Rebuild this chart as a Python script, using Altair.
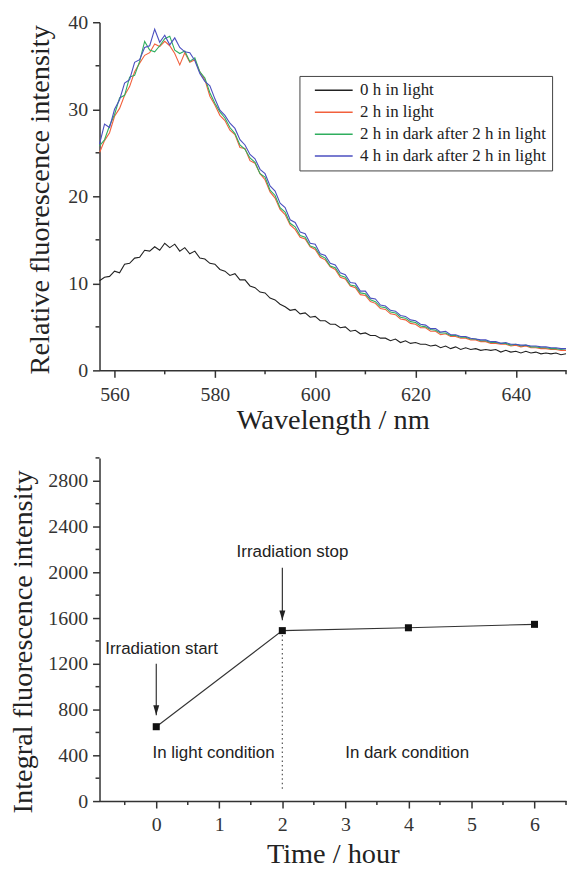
import altair as alt
import pandas as pd

# ---------------- data: top panel (spectra) ----------------
wavelength = list(range(557, 651))

black = [10.3, 10.7, 10.8, 11.4, 11.2, 12.2, 12.3, 12.9, 13.0, 13.8,
         13.7, 14.2, 13.8, 14.6, 14.1, 14.5, 13.7, 14.1, 13.4, 13.7,
         12.9, 12.8, 12.3, 12.2, 11.6, 11.4, 10.9, 11.1, 10.4, 10.4,
         9.7, 9.5, 9.0, 8.9, 8.3, 8.1, 7.6, 7.3, 6.9, 7.0,
         6.5, 6.6, 6.1, 6.2, 5.7, 5.7, 5.3, 5.3, 4.9, 5.0,
         4.5, 4.6, 4.2, 4.3, 4.0, 4.0, 3.7, 3.7, 3.4, 3.6,
         3.2, 3.4, 3.1, 3.2, 3.0, 3.0, 2.8, 2.9, 2.6, 2.8,
         2.5, 2.7, 2.4, 2.6, 2.4, 2.5, 2.3, 2.4, 2.3, 2.4,
         2.1, 2.3, 2.1, 2.2, 2.0, 2.2, 2.0, 2.1, 1.9, 2.0,
         1.9, 2.0, 1.8, 1.9]

red = [25.0, 26.4, 27.3, 29.2, 30.1, 31.6, 32.6, 34.3, 35.3, 36.2,
       36.5, 37.5, 37.2, 37.8, 37.3, 36.4, 35.1, 36.5, 35.4, 35.7,
       34.3, 33.4, 31.5, 30.5, 29.3, 28.7, 27.6, 27.1, 25.6, 25.5,
       24.1, 23.8, 22.6, 21.9, 20.5, 19.8, 18.5, 17.9, 16.7, 16.2,
       15.3, 15.1, 14.2, 13.9, 13.0, 12.7, 11.9, 11.6, 10.7, 10.5,
       9.7, 9.5, 8.7, 8.6, 7.9, 7.7, 7.1, 7.0, 6.5, 6.4,
       5.9, 5.8, 5.4, 5.3, 4.9, 4.9, 4.5, 4.5, 4.1, 4.2,
       3.9, 3.9, 3.7, 3.7, 3.5, 3.5, 3.3, 3.3, 3.1, 3.1,
       3.0, 3.0, 2.8, 2.9, 2.7, 2.8, 2.6, 2.6, 2.5, 2.5,
       2.4, 2.4, 2.3, 2.3]

green = [25.8, 26.5, 28.1, 29.4, 31.3, 31.6, 33.7, 33.9, 35.5, 37.8,
         36.8, 36.6, 37.3, 38.1, 38.4, 36.8, 36.4, 36.7, 35.5, 35.9,
         34.3, 33.6, 31.9, 30.7, 29.7, 29.0, 27.9, 27.2, 25.9, 25.4,
         24.4, 23.9, 22.6, 22.2, 20.7, 20.1, 18.7, 18.2, 16.9, 16.5,
         15.5, 15.3, 14.3, 14.1, 13.2, 12.9, 12.0, 11.8, 10.9, 10.7,
         9.8, 9.7, 8.9, 8.8, 8.1, 7.9, 7.3, 7.2, 6.7, 6.6,
         6.1, 6.0, 5.6, 5.5, 5.1, 5.0, 4.7, 4.6, 4.3, 4.3,
         4.0, 4.0, 3.8, 3.8, 3.6, 3.6, 3.4, 3.4, 3.2, 3.2,
         3.1, 3.1, 2.9, 3.0, 2.8, 2.9, 2.7, 2.7, 2.6, 2.6,
         2.5, 2.5, 2.4, 2.5]

blue = [26.0, 28.3, 27.9, 30.0, 31.1, 33.0, 33.4, 35.4, 35.7, 37.1,
        37.3, 39.2, 37.7, 38.5, 37.4, 38.2, 37.1, 36.6, 36.5, 35.6,
        34.1, 33.2, 32.7, 31.2, 29.9, 29.3, 28.4, 27.8, 26.5, 25.9,
        24.8, 24.3, 23.1, 22.6, 21.2, 20.6, 19.2, 18.7, 17.3, 17.0,
        15.9, 15.7, 14.6, 14.5, 13.4, 13.2, 12.3, 12.1, 11.2, 11.0,
        10.1, 10.0, 9.1, 9.1, 8.3, 8.2, 7.5, 7.4, 6.9, 6.8,
        6.3, 6.2, 5.8, 5.7, 5.3, 5.2, 4.8, 4.8, 4.4, 4.5,
        4.1, 4.1, 3.9, 3.9, 3.7, 3.6, 3.5, 3.5, 3.3, 3.3,
        3.1, 3.2, 3.0, 3.0, 2.9, 2.9, 2.8, 2.8, 2.7, 2.7,
        2.6, 2.6, 2.5, 2.5]

series_names = ["0 h in light", "2 h in light",
                "2 h in dark after 2 h in light", "4 h in dark after 2 h in light"]
series_colors = ["#222222", "#f2603c", "#2fae5e", "#4b4fc0"]

top_x_ticks = [560, 580, 600, 620, 640]
top_x_minor = [570, 590, 610, 630, 650]
top_y_ticks = [0, 10, 20, 30, 40]
top_y_minor = [5, 15, 25, 35]

# ---------------- data: bottom panel ----------------
time_h = [0, 2, 4, 6]
integral = [650, 1490, 1515, 1545]

bot_x_ticks = [0, 1, 2, 3, 4, 5, 6]
bot_x_minor = [-0.5, 0.5, 1.5, 2.5, 3.5, 4.5, 5.5, 6.5]
bot_y_ticks = [0, 400, 800, 1200, 1600, 2000, 2400, 2800]
bot_y_minor = [200, 600, 1000, 1400, 1800, 2200, 2600, 3000]

ann_text = ["Irradiation start", "Irradiation stop", "In light condition", "In dark condition"]
ann_x = [0.085, 2.16, 0.91, 3.98]
ann_y = [1328, 2179, 417, 417]

arrow_x = [0, 2]
arrow_from = [1200, 2040]
arrow_tip = [750, 1580]

divider_x = [2]
divider_from = [1490]
divider_to = [100]

# ---------------- styling ----------------
W, H_TOP, H_BOT = 469, 350, 345
SERIF = "Liberation Serif"
SANS = "Liberation Sans"
AX = "#333333"

axis_style = dict(domainColor=AX, domainWidth=1.5, tickColor=AX, tickWidth=1.5,
                  tickSize=7, labelFont=SERIF, labelFontSize=20, labelColor="#333",
                  titleFont=SERIF, titleFontSize=28.5, titleFontWeight="normal",
                  titleColor="#222", grid=False)

# ---------------- top chart ----------------
spec_rows = []
for name, vals in zip(series_names, [black, red, green, blue]):
    for w, v in zip(wavelength, vals):
        spec_rows.append({"wl": w, "val": v, "series": name})
spec_df = pd.DataFrame(spec_rows)

xs_top = alt.Scale(domain=[557, 650], nice=False, zero=False)
ys_top = alt.Scale(domain=[0, 40], nice=False, zero=False)
color_scale = alt.Scale(domain=series_names, range=series_colors)

x_axis_top = alt.Axis(values=top_x_ticks, title="Wavelength / nm", format="d",
                      labelPadding=7, titleBaseline="alphabetic", titleY=58)
y_axis_top = alt.Axis(values=top_y_ticks, title="Relative fluorescence intensity", format="d",
                      labelPadding=5, titleBaseline="alphabetic", titleX=-51,
                      titleY=H_TOP / 2 + 3)

# custom long stroke symbol so rows stay compact
legend_top = alt.Legend(title=None, orient="none", legendX=201, legendY=54,
                        fillColor="white", strokeColor="#444",
                        padding=6, symbolType="M-3.8,0H3.8", symbolSize=100,
                        symbolOffset=20, symbolStrokeWidth=1.5,
                        labelFont=SERIF, labelFontSize=17,
                        labelColor="#222", labelOffset=18, rowPadding=4,
                        labelLimit=400)

line_layers = []
for name in series_names:
    line_layers.append(
        alt.Chart(spec_df).transform_filter(alt.datum.series == name)
        .mark_line(strokeWidth=1.1)
        .encode(
            x=alt.X("wl:Q", scale=xs_top, axis=x_axis_top),
            y=alt.Y("val:Q", scale=ys_top, axis=y_axis_top),
            color=alt.Color("series:N", scale=color_scale, legend=legend_top),
        )
    )

top_xminor = alt.Chart(pd.DataFrame({"wl": top_x_minor})).mark_rule(
    color=AX, strokeWidth=1.5).encode(
    x=alt.X("wl:Q", scale=xs_top, axis=x_axis_top), y=alt.value(H_TOP), y2=alt.value(H_TOP + 4))
top_yminor = alt.Chart(pd.DataFrame({"val": top_y_minor})).mark_rule(
    color=AX, strokeWidth=1.5).encode(
    y=alt.Y("val:Q", scale=ys_top, axis=y_axis_top), x=alt.value(0), x2=alt.value(-4))

top = alt.layer(*line_layers, top_xminor, top_yminor).properties(width=W, height=H_TOP)

# ---------------- bottom chart ----------------
xs_bot = alt.Scale(domain=[-0.9, 6.5], nice=False, zero=False)
ys_bot = alt.Scale(domain=[0, 3000], nice=False, zero=False)

x_axis_bot = alt.Axis(values=bot_x_ticks, title="Time / hour", format="d",
                      labelPadding=7, titleBaseline="alphabetic", titleY=62)
y_axis_bot = alt.Axis(values=bot_y_ticks, title="Integral fluorescence intensity", format="d",
                      labelPadding=5, titleBaseline="alphabetic", titleX=-68,
                      titleY=H_BOT / 2 + 12)

def bx(f):
    return alt.X(f, scale=xs_bot, axis=x_axis_bot)

def by(f):
    return alt.Y(f, scale=ys_bot, axis=y_axis_bot)

pts_df = pd.DataFrame({"t": time_h, "v": integral})

divider = alt.Chart(pd.DataFrame({"t": divider_x, "v": divider_from, "v2": divider_to})).mark_rule(
    color="#555", strokeWidth=1.2, strokeDash=[1.5, 3]).encode(
    x=bx("t:Q"), y=by("v:Q"), y2="v2:Q")

line_bot = alt.Chart(pts_df).mark_line(color="#333", strokeWidth=1.1).encode(
    x=bx("t:Q"), y=by("v:Q"))
pts_bot = alt.Chart(pts_df).mark_point(shape="square", filled=True, size=50,
                                       color="#111", opacity=1).encode(
    x=bx("t:Q"), y=by("v:Q"))

arrow_df = pd.DataFrame({"t": arrow_x, "v": arrow_from, "tip": arrow_tip})
shafts = alt.Chart(arrow_df).mark_rule(color="#222", strokeWidth=1.1).encode(
    x=bx("t:Q"), y=by("v:Q"), y2="tip:Q")
heads = alt.Chart(arrow_df).mark_point(shape="M0,0L-0.3,-1L0.3,-1Z", filled=True,
                                       size=400, color="#222", opacity=1).encode(
    x=bx("t:Q"), y=by("tip:Q"))

ann = alt.Chart(pd.DataFrame({"t": ann_x, "v": ann_y, "label": ann_text})).mark_text(
    font=SANS, fontSize=17, color="#222", align="center", baseline="middle").encode(
    x=bx("t:Q"), y=by("v:Q"), text="label:N")

bot_xminor = alt.Chart(pd.DataFrame({"t": bot_x_minor})).mark_rule(
    color=AX, strokeWidth=1.5).encode(
    x=bx("t:Q"), y=alt.value(H_BOT), y2=alt.value(H_BOT + 4))
bot_yminor = alt.Chart(pd.DataFrame({"v": bot_y_minor})).mark_rule(
    color=AX, strokeWidth=1.5).encode(
    y=by("v:Q"), x=alt.value(0), x2=alt.value(-4))

bottom = alt.layer(divider, line_bot, pts_bot, shafts, heads, ann, bot_xminor, bot_yminor
                   ).properties(width=W, height=H_BOT)

chart = alt.vconcat(top, bottom, spacing=23).properties(
    padding={"left": 0, "top": 2, "right": 0, "bottom": 0}
).configure_view(stroke=None).configure_legend(strokeWidth=1).configure_axis(**axis_style)

chart.save("out.html", embed_options={"renderer": "svg", "actions": False})
